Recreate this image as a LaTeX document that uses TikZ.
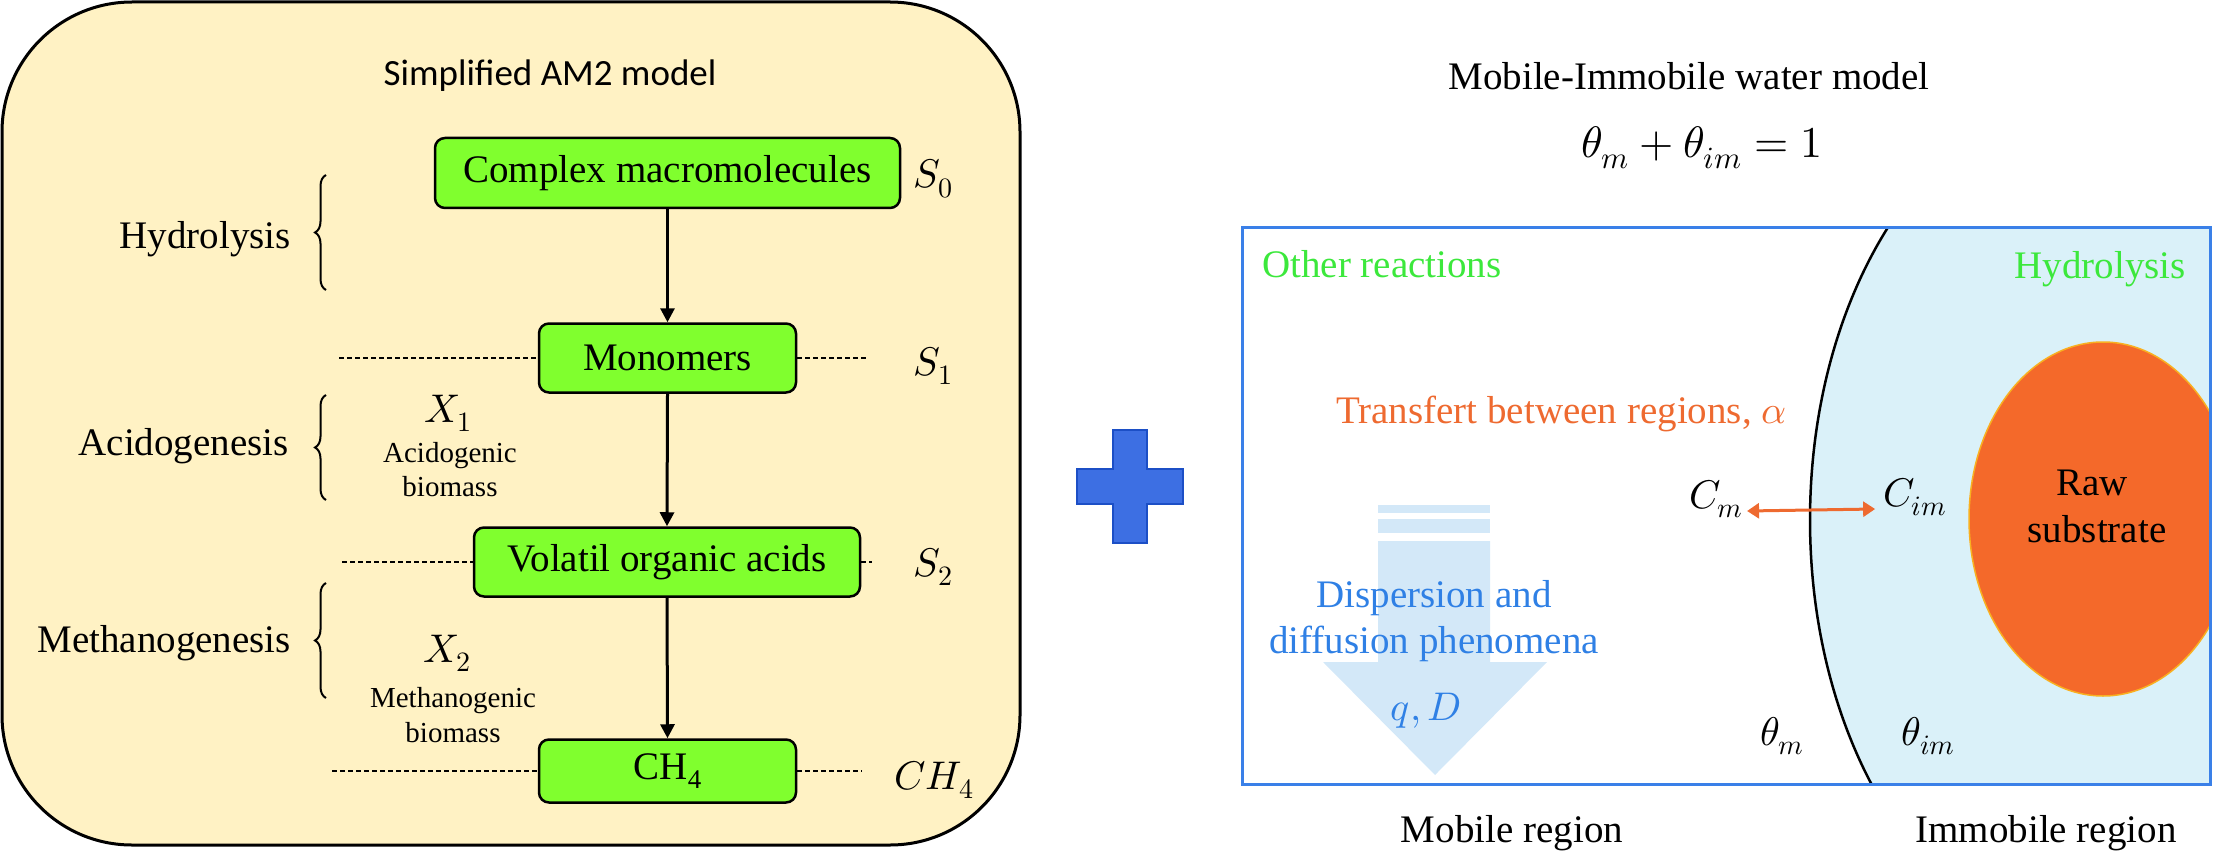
\documentclass[tikz,border=0pt]{standalone}
\usepackage{fontspec}
\usepackage{unicode-math}
\setmainfont{Liberation Serif}
\newfontfamily\calibrifont{Carlito}
\usetikzlibrary{arrows.meta,decorations.pathreplacing}
\definecolor{panelfill}{HTML}{FFF2C4}
\definecolor{boxgreen}{HTML}{80FF2E}
\definecolor{plusblue}{HTML}{3D6FE3}
\definecolor{plusedge}{HTML}{1C4FC6}
\definecolor{frameblue}{HTML}{3A80E8}
\definecolor{immblue}{HTML}{DAF1F9}
\definecolor{rawor}{HTML}{F4692A}
\definecolor{rawedge}{HTML}{F9B020}
\definecolor{txtgreen}{HTML}{3CE83C}
\definecolor{txtorange}{HTML}{EE6A30}
\definecolor{txtblue}{HTML}{2F80E5}
\definecolor{disparrow}{HTML}{D3E8F8}
\begin{document}
\begin{tikzpicture}[x=1pt,y=-1pt,
  stage/.style={draw=black, fill=boxgreen, line width=2.5pt, rounded corners=10pt,
    font=\fontsize{39}{45}\selectfont, inner sep=0pt},
  serif/.style={font=\fontsize{39}{45}\selectfont, inner sep=0pt},
  smalltxt/.style={font=\fontsize{29}{34}\selectfont, inner sep=0pt},
  mathlbl/.style={font=\fontsize{40}{46}\selectfont, inner sep=0pt},
  flow/.style={-{Triangle[length=14pt,width=14pt]}, line width=3pt},
  guide/.style={line width=1.2pt, dash pattern=on 5pt off 3pt},
  bracelbl/.style={decorate, decoration={brace, amplitude=11pt}, line width=2pt},
]
\useasboundingbox (0,0) rectangle (2213,853);

% ---------------- left panel ----------------
\draw[fill=panelfill, line width=3pt, rounded corners=130pt] (2,2) rectangle (1020,845);

\node[font=\calibrifont\fontsize{37}{42}\selectfont, anchor=base, inner sep=0pt] (am2) at (550,86) {Simplified AM2 model};

\node[stage, minimum width=465pt, minimum height=70pt] (cmm) at (667.5,173) {Complex macromolecules};
\node[stage, minimum width=257pt, minimum height=69pt] (mono) at (667.5,358) {Monomers};
\node[stage, minimum width=386pt, minimum height=69pt] (voa) at (667,562) {Volatil organic acids};
\node[stage, minimum width=257pt, minimum height=63pt] (ch4) at (667.5,771) {CH\raisebox{-0.22em}{\fontsize{27}{27}\selectfont 4}};

\draw[flow] (cmm.south) -- (mono.north);
\draw[flow] (mono.south) -- (voa.north);
\draw[flow] (voa.south) -- (ch4.north);

\coordinate (g1l) at (339,358);
\coordinate (g1r) at (868,358);
\coordinate (g2l) at (342,562);
\coordinate (g2r) at (872,562);
\coordinate (g3l) at (332,771);
\coordinate (g3r) at (862,771);
\draw[guide] (g1l) -- (mono.west);
\draw[guide] (mono.east) -- (g1r);
\draw[guide] (g2l) -- (voa.west);
\draw[guide] (voa.east) -- (g2r);
\draw[guide] (g3l) -- (ch4.west);
\draw[guide] (ch4.east) -- (g3r);

\node[mathlbl, anchor=base] (s0) at (933,188) {$S_0$};
\node[mathlbl, anchor=base] (s1) at (933,375) {$S_1$};
\node[mathlbl, anchor=base] (s2) at (933,576) {$S_2$};
\node[mathlbl, anchor=base] (sch) at (934,789) {$CH_4$};

\node[serif, anchor=base east] (hyd) at (291,248) {Hydrolysis};
\node[serif, anchor=base east] (acid) at (289,455) {Acidogenesis};
\node[serif, anchor=base east] (meth) at (291,652) {Methanogenesis};

\coordinate (b1t) at (326,175);
\coordinate (b1b) at (326,290);
\coordinate (b2t) at (326,395);
\coordinate (b2b) at (326,500);
\coordinate (b3t) at (326,583);
\coordinate (b3b) at (326,698);
\draw[bracelbl] (b1b) -- (b1t);
\draw[bracelbl] (b2b) -- (b2t);
\draw[bracelbl] (b3b) -- (b3t);

\node[mathlbl, anchor=base] (x1) at (448,422) {$X_1$};
\node[smalltxt, anchor=base] (x1a) at (450,462) {Acidogenic};
\node[smalltxt, anchor=base] (x1b) at (450,496) {biomass};
\node[mathlbl, anchor=base] (x2) at (447,662) {$X_2$};
\node[smalltxt, anchor=base] (x2a) at (453,707) {Methanogenic};
\node[smalltxt, anchor=base] (x2b) at (453,742) {biomass};

% ---------------- plus ----------------
\draw[fill=plusblue, draw=plusedge, line width=2pt]
  (1113,430) -- (1147,430) -- (1147,469) -- (1183,469) -- (1183,504) -- (1147,504)
  -- (1147,543) -- (1113,543) -- (1113,504) -- (1077,504) -- (1077,469) -- (1113,469) -- cycle;

% ---------------- right panel ----------------
\node[serif, anchor=base] (mimt) at (1689,90) {Mobile-Immobile water model};
\node[font=\fontsize{44}{50}\selectfont, inner sep=0pt, anchor=base] (eq) at (1702,158) {$\theta_m+\theta_{im}=1$};

\begin{scope}
  \clip (1242,227) rectangle (2210,784);
  \fill[immblue] (2100,520) ellipse [x radius=290pt, y radius=429pt];
  \draw[line width=2.5pt] (2100,520) ellipse [x radius=290pt, y radius=429pt];
  \draw[fill=rawor, draw=rawedge, line width=1.5pt] (2103,519) ellipse [x radius=134pt, y radius=177pt];
\end{scope}
\draw[frameblue, line width=3pt] (1242,227) rectangle (2210,784);

% dispersion arrow
\fill[disparrow] (1378,505) rectangle (1490,513);
\fill[disparrow] (1378,519) rectangle (1490,533);
\fill[disparrow] (1378,541) -- (1490,541) -- (1490,662) -- (1547,662) -- (1435,775)
  -- (1323,662) -- (1378,662) -- cycle;

\node[serif, text=txtgreen, anchor=base west] (oth) at (1262,277) {Other reactions};
\node[serif, text=txtgreen, anchor=base east] (hydr) at (2186,278) {Hydrolysis};
\node[serif, text=txtorange, anchor=base west] (trf) at (1336,423) {Transfert between regions, $\alpha$};

\node[mathlbl, anchor=base, inner xsep=4pt] (cmob) at (1716,508) {$C_m$};
\node[mathlbl, anchor=base, inner xsep=8pt] (cimm) at (1915,506) {$C_{im}$};
\draw[txtorange, line width=3pt, {Triangle[length=12pt,width=15pt]}-{Triangle[length=12pt,width=15pt]}]
  ([yshift=-3pt]cmob.base east) -- ([yshift=-3pt]cimm.base west);

\node[mathlbl, anchor=base] (thm) at (1782,745) {$\theta_m$};
\node[mathlbl, anchor=base] (thim) at (1928,745) {$\theta_{im}$};

\node[serif, text=txtblue, anchor=base] (dsp1) at (1434,607) {Dispersion and};
\node[serif, text=txtblue, anchor=base] (dsp2) at (1434,653) {diffusion phenomena};
\node[mathlbl, text=txtblue, anchor=base] (qd) at (1426,720) {$q,D$};

\node[serif, anchor=base] (raw1) at (2092,495) {Raw};
\node[serif, anchor=base] (raw2) at (2097,542) {substrate};

\node[serif, anchor=base] (mobr) at (1512,842) {Mobile region};
\node[serif, anchor=base] (immr) at (2046,842) {Immobile region};
\end{tikzpicture}
\end{document}
